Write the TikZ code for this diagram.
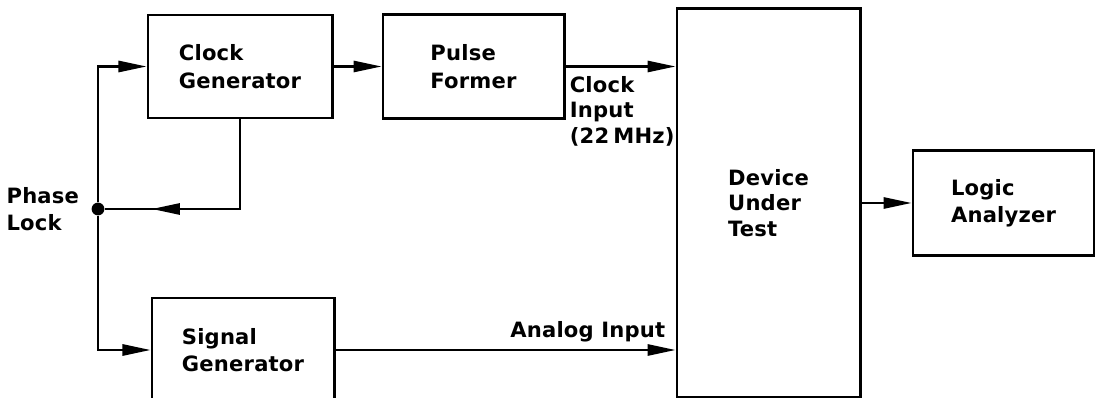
\documentclass[tikz,border=0pt]{standalone}
\usepackage{fontspec}
\setmainfont{DejaVu Sans}[LetterSpace=1]
\usetikzlibrary{arrows.meta,positioning,decorations.markings}
\tikzset{
  blk/.style={draw, rectangle, line width=2.1pt, align=left, font=\fontsize{15}{19.5}\selectfont\bfseries, inner sep=0pt},
  lbl/.style={align=left, font=\fontsize{15}{18}\selectfont\bfseries, inner sep=0pt},
  arr/.style={-{Triangle[length=7mm,width=2.8mm]}, line width=1.6pt},
  wire/.style={line width=1.6pt},
  dot/.style={circle, fill, inner sep=0pt, minimum size=3.2mm},
}

\begin{document}
\begin{tikzpicture}[x=0.025cm, y=-0.025cm]
\useasboundingbox (0,0) rectangle (1095,398);

\node[blk, minimum width=4.6cm, minimum height=2.575cm] (cg) at (240,66.5) {Clock\\Generator};
\node[blk, minimum width=4.525cm, minimum height=2.6cm, right=1.2cm of cg] (pf) {Pulse\\Former};
\node[blk, minimum width=4.575cm, minimum height=9.7cm, font=\fontsize{15}{18}\selectfont\bfseries] (dut) at (768.5,203) {Device\\Under\\Test};
\node[blk, minimum width=4.525cm, minimum height=2.625cm, right=1.25cm of dut] (la) {Logic\\Analyzer};
\node[blk, minimum width=4.55cm, minimum height=2.6cm] (sg) at (243,350) {Signal\\Generator};

\node[dot] (pl) at (98,209) {};
\node[lbl, font=\fontsize{15}{19.5}\selectfont\bfseries, left=0.3cm of pl] (pltext) {Phase\\Lock};

\coordinate (clkend) at (pf.east -| dut.west);
\coordinate (anaend) at (sg.east -| dut.west);

% phase lock loop
\draw[arr] (pl) |- (cg.west);
\draw[arr] (pl) |- (sg.west);
\draw[wire, postaction={decorate}, decoration={markings,
  mark=at position 0.79 with {\arrow{Triangle[length=7mm,width=2.8mm]}}}] (cg.south) |- (pl);

% signal path
\draw[arr] (cg) -- (pf);
\draw[arr] (pf.east) -- (clkend);
\draw[arr] (sg.east) -- (anaend);
\draw[arr] (dut) -- (la);

\node[lbl, below right=0.24cm and 0.1cm of pf.east] (clklbl) {Clock\\Input\\(22\kern3pt MHz)};
\node[lbl, above left=0.2cm and 0.25cm of anaend] (analbl) {Analog Input};

\end{tikzpicture}
\end{document}
